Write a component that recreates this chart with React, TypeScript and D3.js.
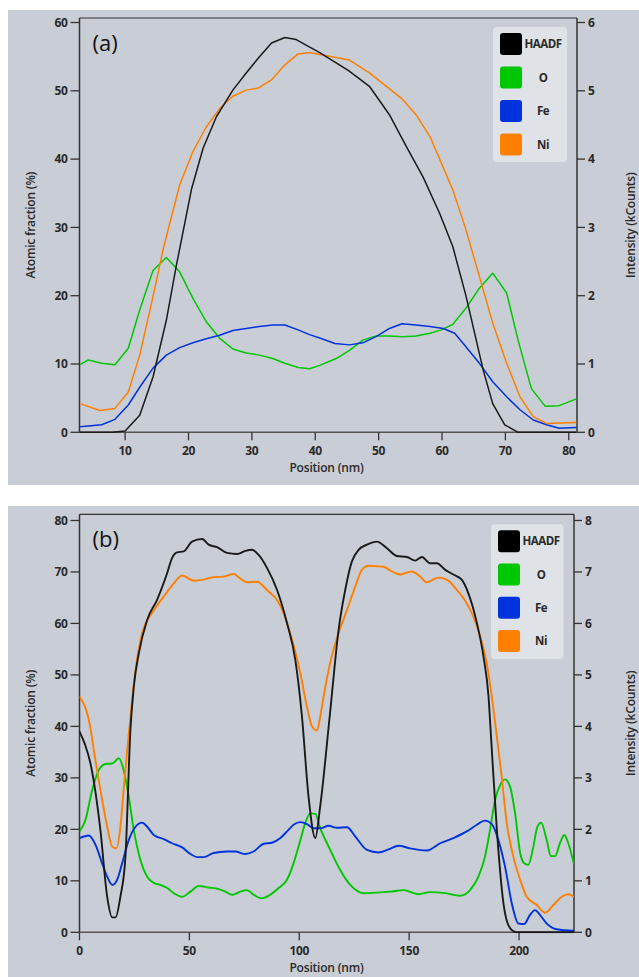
import React from "react";
import * as d3 from "d3";

// ---------- Panel (a) data ----------
const aHaadfX = [2.8, 4, 6, 8, 10, 12.3, 14.4, 16.5, 18.1, 20.5, 22.3, 24.4, 27, 29.1, 31.2, 33.1, 35.2, 37, 40.7, 45.2, 48.6, 51.7, 54.4, 57, 59.6, 61.7, 63.8, 66.5, 68, 69.9, 72, 76, 81.2];
const aHaadfY = [0, 0, 0, 0, 0.02, 0.25, 0.81, 1.64, 2.45, 3.57, 4.16, 4.62, 5.01, 5.26, 5.5, 5.7, 5.78, 5.75, 5.56, 5.3, 5.06, 4.65, 4.18, 3.74, 3.21, 2.72, 1.99, 0.91, 0.42, 0.11, 0, 0, 0];

const aNiX = [2.9, 6.0, 8.4, 10.5, 12.3, 14.4, 16.0, 18.6, 20.7, 22.8, 24.9, 27.0, 29.1, 31.0, 33.1, 35.2, 37.3, 39.1, 40.7, 45.4, 48.6, 53.6, 55.9, 58.1, 61.7, 63.8, 68.0, 70.2, 72.3, 74.4, 76.5, 81.2];
const aNiY = [4.2, 3.2, 3.5, 5.9, 11.3, 19.9, 26.8, 36.2, 41.1, 44.7, 47.4, 49.2, 50.1, 50.4, 51.6, 53.8, 55.4, 55.6, 55.3, 54.5, 52.6, 48.9, 46.5, 43.3, 35.5, 29.6, 16.0, 10.1, 5.2, 2.3, 1.3, 1.45];

const aOX = [2.9, 4.2, 6.3, 8.4, 10.5, 12.3, 14.4, 16.5, 18.6, 20.7, 22.8, 24.9, 27.0, 29.1, 31.2, 33.3, 35.2, 37.3, 39.1, 40.7, 43.3, 45.4, 47.5, 49.6, 51.7, 53.8, 55.9, 58.1, 59.9, 61.7, 63.8, 65.9, 68.0, 70.2, 72.0, 74.1, 76.3, 78.5, 81.2];
const aOY = [9.9, 10.6, 10.1, 9.9, 12.3, 17.9, 23.7, 25.6, 23.5, 19.6, 16.2, 13.8, 12.2, 11.6, 11.3, 10.8, 10.1, 9.5, 9.3, 9.8, 10.8, 12.0, 13.5, 14.1, 14.1, 14.0, 14.1, 14.5, 15.0, 15.8, 18.2, 21.1, 23.3, 20.4, 13.5, 6.4, 3.8, 3.9, 4.9];

const aFeX = [2.9, 6.3, 8.4, 10.5, 12.3, 14.4, 16.5, 18.6, 20.7, 22.8, 24.9, 27.0, 29.1, 31.2, 33.3, 35.2, 37.3, 39.1, 40.7, 43.1, 45.4, 47.5, 49.6, 51.7, 53.7, 55.9, 58.1, 60.2, 62.0, 63.8, 65.9, 68.0, 70.2, 72.3, 74.4, 76.5, 78.5, 81.2];
const aFeY = [0.8, 1.1, 1.9, 4.0, 6.6, 9.4, 11.3, 12.4, 13.1, 13.7, 14.2, 14.9, 15.2, 15.5, 15.7, 15.7, 15.0, 14.3, 13.8, 13.0, 12.8, 13.1, 14.0, 15.2, 15.9, 15.7, 15.5, 15.2, 14.5, 12.5, 10.1, 7.4, 5.2, 3.3, 1.8, 1.1, 0.6, 0.7];

// ---------- Panel (b) data ----------
const bHaadfX = [0, 2.5, 5, 9.5, 12.6, 14.9, 16.4, 18.6, 20.9, 23.2, 24.7, 27, 30.8, 35.3, 39.9, 42.1, 44.4, 47.4, 51.2, 55.8, 58.8, 62.6, 67.1, 71.7, 75.5, 78.5, 81.5, 85.3, 89.9, 94.4, 98.2, 101.2, 104.2, 107.3, 109.5, 114, 117.9, 120.9, 123.9, 127, 130.8, 135.3, 139.9, 144.4, 149, 152.7, 155.8, 159.5, 162.6, 166.4, 170.1, 173.9, 176.9, 180.8, 183.8, 186.1, 187.1, 189.9, 192.9, 195.9, 198.9, 210, 225];
const bHaadfY = [3.9, 3.65, 3.28, 1.99, 0.69, 0.29, 0.29, 0.69, 1.47, 3.96, 4.77, 5.42, 6.07, 6.46, 6.98, 7.27, 7.38, 7.4, 7.59, 7.64, 7.53, 7.48, 7.37, 7.35, 7.41, 7.43, 7.33, 7.08, 6.65, 6.01, 5.29, 4.2, 2.64, 1.83, 2.44, 4.26, 5.88, 6.65, 7.2, 7.43, 7.53, 7.59, 7.46, 7.31, 7.29, 7.22, 7.29, 7.17, 7.17, 7.04, 6.95, 6.85, 6.59, 6.01, 5.36, 4.58, 3.9, 1.99, 0.56, 0.08, 0, 0, 0];

const bNiX = [0, 5, 6.5, 9.5, 12.6, 14.9, 16.8, 18.6, 20.1, 21.7, 22.9, 25.5, 28.5, 33, 38.3, 42.9, 46.7, 52, 56.5, 61, 65.6, 70.1, 73.2, 76.2, 80.8, 85.3, 90.6, 95.9, 100.5, 103.5, 105.8, 108, 109.5, 111, 114.1, 117.9, 121.7, 125.5, 128.5, 131.5, 135.3, 138.3, 142.1, 145.9, 151.2, 155, 158, 163.3, 167.1, 171.7, 176.2, 179.2, 182.3, 185.3, 187.6, 189.9, 192.1, 194.4, 197.4, 200.5, 203.5, 208, 211.8, 215.6, 219.4, 222.4, 225];
const bNiY = [45.8, 39.6, 35.4, 27.7, 20.5, 16.6, 16.3, 20.5, 27.7, 35.4, 40.5, 51, 58.1, 62, 65.2, 67.8, 69.3, 68.3, 68.5, 69, 69.1, 69.6, 68.7, 68.0, 68.1, 66.5, 64.1, 58.1, 50.3, 43.8, 40.0, 39.2, 41.8, 45.6, 52.4, 58.1, 62.6, 67.2, 70.4, 71.2, 71.1, 71.0, 70.1, 69.5, 70.1, 69.1, 68.0, 68.9, 68.5, 66.5, 63.9, 61.3, 57.5, 52.3, 45.8, 38, 30.2, 21.2, 14.7, 10.2, 6.9, 5.3, 3.8, 5.3, 6.9, 7.4, 6.9];

const bOX = [0, 2.7, 5.8, 8.8, 11.8, 14.9, 17.9, 20.1, 22.4, 24.7, 27.7, 30.8, 33.8, 36.8, 39.9, 42.9, 46.7, 50.5, 54.2, 58.8, 63.3, 66.4, 69.4, 73.2, 76.2, 79.2, 83.0, 86.8, 90.6, 94.4, 97.4, 100.5, 102.7, 105, 107.3, 109.5, 114.1, 118.6, 123.2, 129.2, 135.3, 141.4, 147.4, 154.2, 159.5, 166.4, 173.2, 177.7, 181.5, 184.5, 186.8, 189.1, 191.4, 193.6, 195.9, 198.2, 200.5, 202.3, 204.2, 206.5, 208.3, 210, 212.6, 214.5, 216.4, 218.6, 220.6, 222.4, 225];
const bOY = [19.6, 21.8, 27.7, 31.5, 32.7, 32.8, 33.8, 31.5, 26.4, 19.9, 14.1, 10.8, 9.6, 9.2, 8.6, 7.6, 6.9, 7.9, 9.0, 8.7, 8.4, 7.9, 7.3, 7.9, 8.2, 7.3, 6.6, 7.3, 8.6, 10.2, 13.4, 17.9, 21.2, 23.1, 23.0, 20.3, 16.0, 12.1, 9.2, 7.6, 7.7, 7.9, 8.2, 7.4, 7.8, 7.6, 7.1, 8.2, 10.8, 14.7, 19.9, 25.7, 28.6, 29.7, 28.3, 23.1, 15.4, 13.4, 13.1, 16.6, 20.5, 21.3, 17.9, 14.8, 14.8, 17.3, 18.9, 17.3, 13.2];

const bFeX = [0, 4.2, 7.3, 10.3, 12.6, 14.9, 17.1, 19.4, 22.4, 25.5, 28.5, 30.8, 33.8, 38.3, 42.1, 46.7, 50.5, 53.5, 56.5, 61, 67.1, 70.9, 75.5, 79.2, 83.8, 87.6, 91.4, 94.4, 97.4, 100.5, 103.5, 106.5, 109.5, 113.3, 117.1, 121.7, 125.5, 130.8, 136.1, 140.6, 145.2, 150.5, 158, 164.1, 170.1, 176.2, 180.8, 184.5, 187.6, 190.6, 193.6, 196.7, 199.7, 202.3, 205, 207.3, 209.5, 212.6, 217.1, 225];
const bFeY = [18.3, 18.8, 17.0, 13.4, 10.8, 9.2, 10.2, 13.4, 17.9, 20.5, 21.3, 20.5, 18.9, 18.1, 17.3, 16.5, 15.2, 14.6, 14.6, 15.4, 15.7, 15.7, 15.2, 15.7, 17.2, 17.4, 18.3, 19.6, 20.9, 21.4, 21.0, 20.2, 20.2, 20.7, 20.3, 20.4, 18.6, 16.0, 15.5, 16.1, 16.8, 16.3, 15.9, 17.3, 18.3, 19.6, 20.9, 21.7, 21.0, 17.9, 12.8, 5.6, 1.7, 1.6, 3.4, 4.3, 3.4, 1.7, 0.6, 0.3];

const legendLabels = ["HAADF", "O", "Fe", "Ni"];
const seriesColors = ["#000000", "#00c800", "#0033dd", "#ff8000"];

const aXTicks = [10, 20, 30, 40, 50, 60, 70, 80];
const aYTicks = [0, 10, 20, 30, 40, 50, 60];
const aY2Ticks = [0, 1, 2, 3, 4, 5, 6];
const bXTicks = [0, 50, 100, 150, 200];
const bYTicks = [0, 10, 20, 30, 40, 50, 60, 70, 80];
const bY2Ticks = [0, 1, 2, 3, 4, 5, 6, 7, 8];

const FONT = "'Open Sans', 'Noto Sans', sans-serif";
const TXT = "#2a2a2a";

type PanelProps = {
  top: number;
  bottom: number;
  plot: { l: number; r: number; t: number; b: number };
  xDomain: [number, number];
  yMax: number;
  xTicks: number[];
  yTicks: number[];
  y2Ticks: number[];
  label: string;
  haadf: [number[], number[]];
  series: [number[], number[]][];
  smooth: boolean;
  legend: { x: number; y: number; w: number; h: number; step: number };
  lw: number;
  titleX: number;
};

function Panel(p: PanelProps) {
  const x = d3.scaleLinear().domain(p.xDomain).range([p.plot.l, p.plot.r]);
  const y = d3.scaleLinear().domain([0, p.yMax]).range([p.plot.b, p.plot.t]);
  const y2 = d3.scaleLinear().domain([0, p.yMax / 10]).range([p.plot.b, p.plot.t]);
  const curve = p.smooth ? d3.curveMonotoneX : d3.curveLinear;
  const lineL = d3.line<[number, number]>().x((d) => x(d[0])).y((d) => y(d[1])).curve(curve);
  const lineR = d3.line<[number, number]>().x((d) => x(d[0])).y((d) => y2(d[1])).curve(curve);
  const zip = (xs: number[], ys: number[]) => xs.map((v, i) => [v, ys[i]] as [number, number]);
  const midY = (p.plot.t + p.plot.b) / 2;
  const clipId = "clip" + p.label.replace(/\W/g, "");
  return (
    <g>
      <rect x={8} y={p.top} width={631} height={p.bottom - p.top} fill="#c9cdd6" />
      <defs>
        <clipPath id={clipId}>
          <rect x={p.plot.l} y={p.plot.t} width={p.plot.r - p.plot.l} height={p.plot.b - p.plot.t + 1} />
        </clipPath>
      </defs>
      <line x1={p.plot.l} x2={p.plot.r} y1={p.plot.t} y2={p.plot.t} stroke="#333" strokeWidth={1.2} />
      <line x1={p.plot.l} x2={p.plot.l} y1={p.plot.t} y2={p.plot.b} stroke="#333" strokeWidth={1.5} />
      <line x1={p.plot.r} x2={p.plot.r} y1={p.plot.t} y2={p.plot.b} stroke="#333" strokeWidth={1.5} />
      <line x1={p.plot.l} x2={p.plot.r} y1={p.plot.b} y2={p.plot.b} stroke="#555" strokeWidth={1.5} />
      {p.yTicks.map((t) => (
        <g key={"yl" + t}>
          <line x1={p.plot.l - 9} x2={p.plot.l} y1={y(t)} y2={y(t)} stroke="#333" strokeWidth={1.3} />
          <text x={p.plot.l - 12} y={y(t)} dy="0.35em" textAnchor="end" fontSize={12} fontWeight={700} fill={TXT} fontFamily={FONT} letterSpacing={-0.3}>
            {t}
          </text>
        </g>
      ))}
      {p.y2Ticks.map((t) => (
        <g key={"yr" + t}>
          <line x1={p.plot.r} x2={p.plot.r + 8} y1={y2(t)} y2={y2(t)} stroke="#333" strokeWidth={1.3} />
          <text x={p.plot.r + 11} y={y2(t)} dy="0.35em" textAnchor="start" fontSize={12} fontWeight={700} fill={TXT} fontFamily={FONT}>
            {t}
          </text>
        </g>
      ))}
      {p.xTicks.map((t) => (
        <g key={"x" + t}>
          <line x1={x(t)} x2={x(t)} y1={p.plot.b} y2={p.plot.b + 8} stroke="#333" strokeWidth={1.3} />
          <text x={x(t)} y={p.plot.b + 23} textAnchor="middle" fontSize={12} fontWeight={700} fill={TXT} fontFamily={FONT} letterSpacing={-0.3}>
            {t}
          </text>
        </g>
      ))}
      <text x={p.titleX} y={p.plot.b + 40} textAnchor="middle" fontSize={12} fontWeight={600} fill={TXT} fontFamily={FONT} letterSpacing={-0.2}>
        Position (nm)
      </text>
      <text transform={`translate(35,${midY}) rotate(-90)`} textAnchor="middle" fontSize={12} fontWeight={600} fill={TXT} fontFamily={FONT} letterSpacing={-0.2}>
        Atomic fraction (%)
      </text>
      <text transform={`translate(635,${midY}) rotate(-90)`} textAnchor="middle" fontSize={12} fontWeight={600} fill={TXT} fontFamily={FONT} letterSpacing={-0.2}>
        Intensity (kCounts)
      </text>
      <g clipPath={`url(#${clipId})`}>
        {p.series.map((s, i) => (
          <path key={"s" + i} d={lineL(zip(s[0], s[1])) || ""} fill="none" stroke={seriesColors[i + 1]} strokeWidth={p.lw} strokeLinejoin="round" />
        ))}
        <path d={lineR(zip(p.haadf[0], p.haadf[1])) || ""} fill="none" stroke="#1a1a1a" strokeWidth={p.lw} strokeLinejoin="round" />
      </g>
      <text x={p.plot.l + 13} y={p.plot.t + 33} fontSize={22} fill="#111" fontFamily={FONT}>
        {p.label}
      </text>
      <rect x={p.legend.x} y={p.legend.y} width={p.legend.w} height={p.legend.h} rx={4} fill="#dfe2e7" />
      {legendLabels.map((lab, i) => (
        <g key={lab}>
          <rect x={p.legend.x + 7} y={p.legend.y + 6 + i * p.legend.step} width={22} height={22} rx={3} fill={seriesColors[i]} />
          <text x={p.legend.x + 50} y={p.legend.y + 17 + i * p.legend.step} dy="0.35em" textAnchor="middle" fontSize={11.5} fontWeight={700} fill={TXT} fontFamily={FONT} letterSpacing={-0.5}>
            {lab}
          </text>
        </g>
      ))}
    </g>
  );
}

export default function App() {
  return (
    <svg width={639} height={977} style={{ position: "absolute", left: 0, top: 0, background: "#fff" }}>
      <Panel
        top={10}
        bottom={485}
        plot={{ l: 79.5, r: 577, t: 18, b: 432.3 }}
        xDomain={[2.8, 81.3]}
        yMax={60.66}
        xTicks={aXTicks}
        yTicks={aYTicks}
        y2Ticks={aY2Ticks}
        label="(a)"
        haadf={[aHaadfX, aHaadfY]}
        series={[
          [aOX, aOY],
          [aFeX, aFeY],
          [aNiX, aNiY],
        ]}
        smooth={false}
        legend={{ x: 493, y: 27, w: 74, h: 135, step: 33.5 }}
        lw={1.5}
        titleX={326.5}
      />
      <Panel
        top={506}
        bottom={977}
        plot={{ l: 79.5, r: 574, t: 514.3, b: 932.3 }}
        xDomain={[0, 225]}
        yMax={81.2}
        xTicks={bXTicks}
        yTicks={bYTicks}
        y2Ticks={bY2Ticks}
        label="(b)"
        haadf={[bHaadfX, bHaadfY]}
        series={[
          [bOX, bOY],
          [bFeX, bFeY],
          [bNiX, bNiY],
        ]}
        smooth={true}
        legend={{ x: 491, y: 524.3, w: 72.5, h: 134.7, step: 33.2 }}
        lw={1.9}
        titleX={326.5}
      />
    </svg>
  );
}
